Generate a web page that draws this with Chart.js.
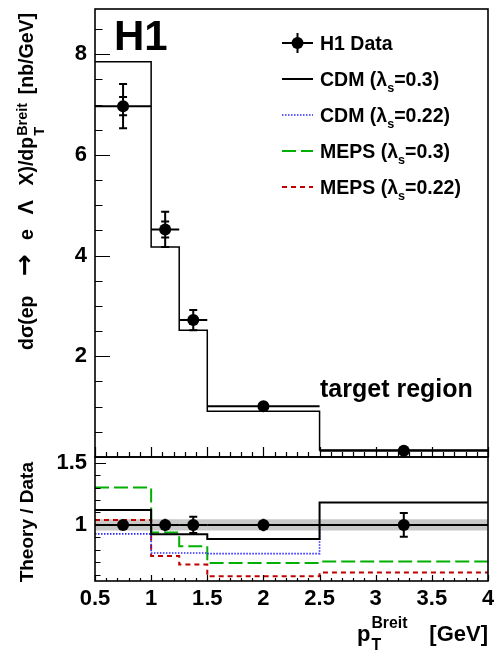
<!DOCTYPE html>
<html><head><meta charset="utf-8">
<script src="https://cdn.jsdelivr.net/npm/chart.js@4.4.1/dist/chart.umd.min.js"></script>
<style>
html,body{margin:0;padding:0;background:#fff;}
#wrap{position:relative;width:494px;height:651px;overflow:hidden;background:#fff;}
#c1{position:absolute;left:0;top:0;}
#c2{position:absolute;left:0;top:452px;}
</style></head><body>
<div id="wrap"><canvas id="c1" width="494" height="460"></canvas><canvas id="c2" width="494" height="199"></canvas></div>
<script>
// ---------- data ----------
const binEdges   = [0.5, 1.0, 1.25, 1.5, 2.5, 4.0];
const binCenters = [0.75, 1.125, 1.375, 2.0, 3.25];
const h1Data     = [6.97, 4.52, 2.72, 1.01, 0.125];
const h1StatErr  = [0.18, 0.16, 0.10, 0.04, 0.01];
const h1TotErr   = [0.44, 0.35, 0.20, 0.06, 0.02];
const cdm03Xsec  = [7.85, 4.17, 2.52, 0.91, 0.14];
const ratioData  = [1, 1, 1, 1, 1];
const ratioErr   = [0.03, 0.05, 0.065, 0.05, 0.095];
const ratioCDM03   = [1.12, 0.925, 0.925, 0.888, 1.179];
const ratioCDM022  = [0.928, 0.775, 0.775, 0.770, 1.0];
const ratioMEPS03  = [1.30, 0.94, 0.829, 0.695, 0.706];
const ratioMEPS022 = [1.04, 0.751, 0.682, 0.588, 0.618];
const normBand   = [0.955, 1.045];
const topYLabels = [2, 4, 6, 8];
const ratioYLabels = [1, 1.5];
const xLabels    = [0.5, 1, 1.5, 2, 2.5, 3, 3.5, 4];
const legendLabels = ['H1 Data', 'CDM (λ_s=0.3)', 'CDM (λ_s=0.22)', 'MEPS (λ_s=0.3)', 'MEPS (λ_s=0.22)'];
const yTitle = [{t: 'dσ(ep'}, {gap: 1.3}, {t: '→', fam: '"DejaVu Sans"', k: 1.35}, {gap: 1}, {t: 'e'}, {gap: 1}, {t: 'Λ', k: 1.1}, {gap: 1},
                {t: 'X)/dp'}, {sub: 'T', sup: 'Breit'}, {gap: 0.6}, {t: '[nb/GeV]'}];
const xTitle = [{t: 'p'}, {sub: 'T', sup: 'Breit'}, {gap: 1}, {t: '[GeV]'}];
const ratioTitle = [{t: 'Theory / Data'}];

// ---------- styles ----------
const FAM = '"Liberation Sans", Arial, Helvetica, sans-serif';
const styles = {
  cdm03:  {color: '#000000', dash: [], width: 2},
  cdm022: {color: '#2a2aff', dash: [1.5, 1.5], width: 1.6},
  meps03: {color: '#00b000', dash: [14, 5], width: 2},
  meps022:{color: '#c00000', dash: [5, 4], width: 2}
};
const legendStyles = [null, styles.cdm03, styles.cdm022, styles.meps03, styles.meps022];

function steps(vals){ return binEdges.map((e,i)=>({x:e, y: vals[Math.min(i, vals.length-1)]})); }
function points(vals){ return binCenters.map((c,i)=>({x:c, y: vals[i]})); }
function font(size, fam){ return 'bold ' + size + 'px ' + (fam || FAM); }

function segWidth(ctx, s, size, sc){
  if (s.gap) return 0;
  if (s.t !== undefined){ ctx.font = font(size*(s.k||1), s.fam); return ctx.measureText(s.t).width; }
  ctx.font = font(size*sc); return Math.max(ctx.measureText(s.sub).width, ctx.measureText(s.sup).width) + 1;
}
function richWidth(ctx, segs, size, sc){ return segs.reduce((w, s) => w + segWidth(ctx, s, size, sc), 0); }
function drawRich(ctx, segs, x, y, size, o){
  const sc = o.sc || 0.72;
  const W = richWidth(ctx, segs, size, sc);
  const gw = segs.reduce((n, s) => n + (s.gap || 0), 0);
  const unit = gw ? (o.target - W)/gw : 0;
  x = o.right ? x - (o.target || W) : x;
  for (const s of segs){
    if (s.gap){ x += unit*s.gap; continue; }
    if (s.t !== undefined){
      ctx.font = font(size*(s.k||1), s.fam);
      ctx.fillText(s.t, x, y); x += ctx.measureText(s.t).width;
    } else {
      ctx.font = font(size*sc);
      ctx.fillText(s.sub, x + 1, y + size*o.subDy);
      ctx.fillText(s.sup, x + 1, y + size*o.supDy);
      x += Math.max(ctx.measureText(s.sub).width, ctx.measureText(s.sup).width) + 1;
    }
  }
}
function drawLabelSub(ctx, str, x, y, size){
  const parts = str.split('_');
  ctx.font = font(size); ctx.fillText(parts[0], x, y); x += ctx.measureText(parts[0]).width;
  for (let i = 1; i < parts.length; i++){
    const sub = parts[i][0], rest = parts[i].slice(1);
    ctx.font = font(size*0.65); ctx.fillText(sub, x, y + size*0.32); x += ctx.measureText(sub).width;
    ctx.font = font(size); ctx.fillText(rest, x, y); x += ctx.measureText(rest).width;
  }
}

const frameTicks = {
  id: 'frameTicks',
  afterDatasetsDraw(chart, args, o){
    const {ctx, chartArea: a, scales: {x, y}} = chart;
    ctx.save();
    ctx.strokeStyle = '#000'; ctx.lineWidth = 1.2;
    ctx.beginPath();
    const eps = 1e-6;
    for (let k = Math.ceil(y.min/o.yMinor - eps); k*o.yMinor <= y.max + eps; k++){
      const v = k*o.yMinor, py = Math.round(y.getPixelForValue(v)) + 0.5;
      const major = Math.abs(v/o.yMajor - Math.round(v/o.yMajor)) < 1e-6;
      const L = major ? o.yMajorLen : o.yMinorLen;
      ctx.moveTo(a.left, py); ctx.lineTo(a.left + L, py);
    }
    for (let k = Math.ceil(x.min/o.xMinor - eps); k*o.xMinor <= x.max + eps; k++){
      const v = k*o.xMinor, px = Math.round(x.getPixelForValue(v)) + 0.5;
      const major = Math.abs(v/o.xMajor - Math.round(v/o.xMajor)) < 1e-6;
      const L = major ? o.xMajorLen : o.xMinorLen;
      ctx.moveTo(px, a.bottom); ctx.lineTo(px, a.bottom - L);
    }
    ctx.stroke();
    ctx.lineWidth = 1.6;
    ctx.strokeRect(a.left, a.top, a.right - a.left, a.bottom - a.top);
    ctx.restore();
  }
};

const errorBars = {
  id: 'errorBars',
  afterDatasetsDraw(chart, args, o){
    const {ctx, scales: {x, y}} = chart;
    ctx.save(); ctx.strokeStyle = '#000'; ctx.lineWidth = 2;
    o.vals.forEach((v, i) => {
      const py = y.getPixelForValue(v), px = x.getPixelForValue(binCenters[i]);
      ctx.beginPath();
      ctx.moveTo(x.getPixelForValue(binEdges[i]), py); ctx.lineTo(x.getPixelForValue(binEdges[i+1]), py);
      const errs = o.errs.map(e => e[i]);
      const emax = Math.max(...errs);
      ctx.moveTo(px, y.getPixelForValue(v + emax)); ctx.lineTo(px, y.getPixelForValue(v - emax));
      for (const e of errs){
        for (const s of [1, -1]){
          const cy = y.getPixelForValue(v + s*e);
          if (Math.abs(cy - py) > 6.5){ ctx.moveTo(px - 4, cy); ctx.lineTo(px + 4, cy); }
        }
      }
      ctx.stroke();
    });
    ctx.restore();
  }
};

const topTexts = {
  id: 'topTexts',
  afterDraw(chart){
    const ctx = chart.ctx;
    ctx.save(); ctx.fillStyle = '#000'; ctx.textBaseline = 'alphabetic'; ctx.textAlign = 'left';
    ctx.save(); ctx.translate(33, 13); ctx.rotate(-Math.PI/2);
    drawRich(ctx, yTitle, 0, 0, 19.5, {right: true, target: 337, sc: 0.74, subDy: 0.55, supDy: -0.32}); ctx.restore();
    ctx.font = font(42); ctx.fillText('H1', 114, 50);
    ctx.font = font(25); ctx.fillText('target region', 320, 397);
    const rows = [43, 79, 115, 151, 187];
    legendLabels.forEach((lab, i) => {
      const yc = rows[i];
      ctx.save();
      if (i === 0){
        ctx.strokeStyle = '#000'; ctx.lineWidth = 2; ctx.beginPath();
        ctx.moveTo(282, yc); ctx.lineTo(313, yc); ctx.moveTo(297.5, yc - 10); ctx.lineTo(297.5, yc + 10); ctx.stroke();
        ctx.beginPath(); ctx.arc(297.5, yc, 6, 0, 2*Math.PI); ctx.fill();
      } else {
        const st = legendStyles[i];
        ctx.strokeStyle = st.color; ctx.lineWidth = st.width; ctx.setLineDash(st.dash);
        ctx.beginPath(); ctx.moveTo(282, yc); ctx.lineTo(313, yc); ctx.stroke();
      }
      ctx.restore();
      drawLabelSub(ctx, lab, 320, yc + 7, 19.5);
    });
    ctx.restore();
  }
};

const C2TOP = 452;
const bottomTexts = {
  id: 'bottomTexts',
  afterDraw(chart){
    const ctx = chart.ctx;
    ctx.save(); ctx.fillStyle = '#000'; ctx.textBaseline = 'alphabetic'; ctx.textAlign = 'left';
    ctx.save(); ctx.translate(33, 462 - C2TOP); ctx.rotate(-Math.PI/2);
    drawRich(ctx, ratioTitle, 0, 0, 19, {right: true}); ctx.restore();
    drawRich(ctx, xTitle, 488, 641 - C2TOP, 22, {right: true, target: 131, sc: 0.72, subDy: 0.42, supDy: -0.6});
    ctx.restore();
  }
};

const tickFont = {family: FAM, size: 22, weight: 'bold'};
const noGrid = {display: false, drawTicks: false};
const zeroPad = s => { s.paddingTop = 0; s.paddingBottom = 0; s.paddingLeft = 0; s.paddingRight = 0; };

new Chart(document.getElementById('c1'), {
  type: 'line',
  data: { datasets: [
    { data: points(h1Data), showLine: false, pointRadius: 6, pointBackgroundColor: '#000', pointBorderColor: '#000', pointBorderWidth: 0 },
    { data: steps(cdm03Xsec), stepped: 'before', borderColor: '#000', borderWidth: 1.5, pointRadius: 0, fill: false }
  ]},
  options: {
    responsive: false, animation: false, events: [],
    layout: {autoPadding: false, padding: {left: 0, right: 6, top: 9, bottom: 3}},
    plugins: {legend: {display: false}, tooltip: {enabled: false},
      frameTicks: {yMinor: 0.5, yMajor: 2, yMajorLen: 15, yMinorLen: 7.5, xMinor: 0.1, xMajor: 0.5, xMajorLen: 10, xMinorLen: 5},
      errorBars: {vals: h1Data, errs: [h1StatErr, h1TotErr]}},
    scales: {
      x: {type: 'linear', min: 0.5, max: 4, display: false},
      y: {type: 'linear', min: 0, max: 8.9, position: 'left',
          afterFit: s => { s.width = 95; zeroPad(s); },
          afterBuildTicks: s => { s.ticks = topYLabels.map(v => ({value: v})); },
          ticks: {font: tickFont, color: '#000', padding: 8, callback: v => String(v)},
          grid: noGrid, border: {display: false}}
    }
  },
  plugins: [frameTicks, errorBars, topTexts]
});

function ratioLine(vals, st){
  return { data: steps(vals), stepped: 'before', borderColor: st.color, borderWidth: st.width, borderDash: st.dash, pointRadius: 0, fill: false };
}
new Chart(document.getElementById('c2'), {
  type: 'line',
  data: { datasets: [
    { data: points(ratioData), showLine: false, pointRadius: 6, pointBackgroundColor: '#000', pointBorderColor: '#000', pointBorderWidth: 0 },
    ratioLine(ratioCDM03, styles.cdm03),
    ratioLine(ratioCDM022, styles.cdm022),
    ratioLine(ratioMEPS03, styles.meps03),
    ratioLine(ratioMEPS022, styles.meps022),
    { data: [{x: binEdges[0], y: normBand[1]}, {x: binEdges[binEdges.length-1], y: normBand[1]}],
      borderWidth: 0, borderColor: 'rgba(0,0,0,0)', pointRadius: 0, backgroundColor: '#c8c8c8', fill: {value: normBand[0]} }
  ]},
  options: {
    responsive: false, animation: false, events: [],
    layout: {autoPadding: false, padding: {left: 0, right: 6, top: 5, bottom: 0}},
    plugins: {legend: {display: false}, tooltip: {enabled: false},
      frameTicks: {yMinor: 0.1, yMajor: 0.5, yMajorLen: 11, yMinorLen: 5.5, xMinor: 0.1, xMajor: 0.5, xMajorLen: 6, xMinorLen: 3},
      errorBars: {vals: ratioData, errs: [ratioErr]}},
    scales: {
      x: {type: 'linear', min: 0.5, max: 4, position: 'bottom',
          afterFit: s => { s.height = 70; zeroPad(s); },
          afterBuildTicks: s => { s.ticks = xLabels.map(v => ({value: v})); },
          ticks: {font: tickFont, color: '#000', padding: 5, maxRotation: 0, autoSkip: false, callback: v => String(v)},
          grid: noGrid, border: {display: false}},
      y: {type: 'linear', min: 0.55, max: 1.545, position: 'left',
          afterFit: s => { s.width = 95; zeroPad(s); },
          afterBuildTicks: s => { s.ticks = ratioYLabels.map(v => ({value: v})); },
          ticks: {font: tickFont, color: '#000', padding: 8, callback: v => String(v)},
          grid: noGrid, border: {display: false}}
    }
  },
  plugins: [frameTicks, errorBars, bottomTexts]
});
</script>
</body></html>
